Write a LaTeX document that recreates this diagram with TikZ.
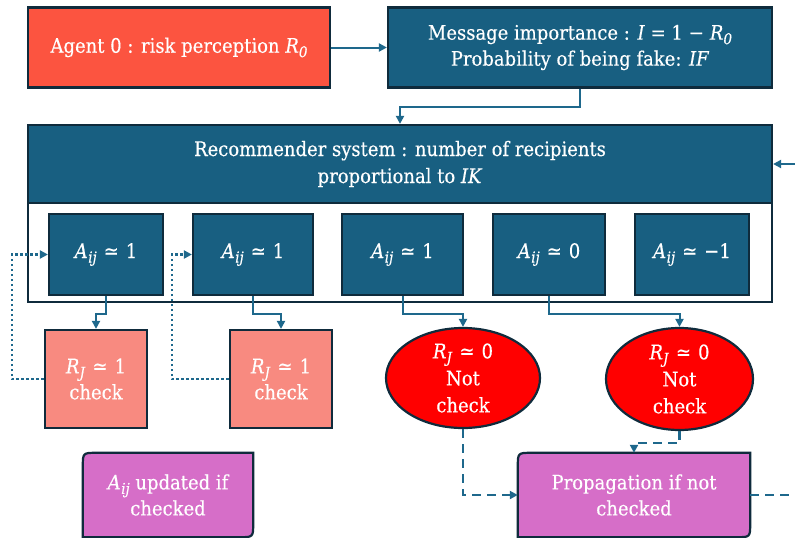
\documentclass[tikz,border=0pt]{standalone}
\usepackage{fontspec}
\setmainfont{DejaVu Serif Condensed}[FakeBold=0.3]
\usetikzlibrary{arrows.meta,shapes.geometric,calc,backgrounds}
\definecolor{agentred}{RGB}{252,84,64}
\definecolor{teal}{RGB}{24,95,129}
\definecolor{edge}{RGB}{15,43,60}
\definecolor{wire}{RGB}{30,104,140}
\definecolor{salmon}{RGB}{248,138,128}
\definecolor{alarm}{RGB}{255,0,0}
\definecolor{orchid}{RGB}{214,110,200}
% symbols set in the text font so that they share its weight
\newcommand{\sub}[1]{\raisebox{-4.5pt}{\fontsize{15}{15}\selectfont\textit{#1}}}
\newcommand{\vA}{\textit{A}\kern0.5pt\sub{ij}}
\newcommand{\vR}[1]{\textit{R}\sub{#1}}
\newcommand{\approxeq}{\hspace{0.35em}≃\hspace{0.35em}}
\newcommand{\minus}{\hspace{0.3em}−\hspace{0.3em}}
\tikzset{
  base/.style={draw=edge, line width=2.2pt, text=white, align=center, inner sep=2pt,
    font=\fontsize{20}{26}\selectfont},
  agentbox/.style={base, fill=agentred},
  bluebox/.style={base, fill=teal},
  frame/.style={draw=edge, line width=2.2pt, fill=white},
  checkbox/.style={base, fill=salmon},
  notcheck/.style={base, ellipse, fill=alarm, inner sep=0pt, font=\fontsize{20}{27}\selectfont},
  softbox/.style={text=white, align=center, font=\fontsize{20}{26}\selectfont},
  softfill/.style={draw=edge, line width=2.2pt, fill=orchid},
  tip/.style={-{Triangle[length=8pt,width=8pt]}},
  conn/.style={draw=wire, line width=2pt, tip},
  dotconn/.style={draw=wire, line width=2.2pt, dash pattern=on 2.5pt off 2.5pt, tip},
  dashconn/.style={draw=wire, line width=2.2pt, dash pattern=on 9pt off 6pt, tip},
}
\begin{document}
\begin{tikzpicture}[x=1pt,y=-1pt]
\useasboundingbox (0,0) rectangle (795,538);

% top row
\node[agentbox, minimum width=302pt, minimum height=80pt] (agent) at (179,47.5)
  {Agent 0 : risk perception \vR{0}};
\node[bluebox, minimum width=384pt, minimum height=80pt] (msg) at (580,47.5)
  {Message importance : \textit{I} = 1\minus\vR{0}\\ Probability of being fake: \textit{IF}};

% recommender system with its link weights
\node[frame, minimum width=744pt, minimum height=177pt] (rs) at (400,213.5) {};
\node[bluebox, minimum width=744pt, minimum height=78pt] (hdr) at (400,164)
  {Recommender system : number of recipients\\[1pt] proportional to \textit{IK}};
\node[bluebox, minimum width=114pt, minimum height=81pt] (b1) at (106,254.5) {\vA\approxeq 1};
\node[bluebox, minimum width=120pt, minimum height=81pt] (b2) at (253,254.5) {\vA\approxeq 1};
\node[bluebox, minimum width=121pt, minimum height=81pt] (b3) at (402.5,254.5) {\vA\approxeq 1};
\node[bluebox, minimum width=112pt, minimum height=81pt] (b4) at (549,254.5) {\vA\approxeq 0};
\node[bluebox, minimum width=114pt, minimum height=81pt] (b5) at (692,254.5) {\vA\approxeq −1};

% recipients
\node[checkbox, minimum width=102pt, minimum height=98pt] (c1) at (96,379) {\vR{J}\approxeq 1\\ check};
\node[checkbox, minimum width=102pt, minimum height=98pt] (c2) at (281,379) {\vR{J}\approxeq 1\\ check};
\node[notcheck, minimum width=154pt, minimum height=100pt] (e1) at (463,378) {\vR{J}\approxeq 0\\ Not\\ check};
\node[notcheck, minimum width=147pt, minimum height=102pt] (e2) at (679.5,379) {\vR{J}\approxeq 0\\ Not\\ check};

% outcome boxes (rounded at two opposite corners)
\node[softbox, minimum width=170pt, minimum height=84pt] (upd) at (168,495) {\vA{} updated if\\ checked};
\node[softbox, minimum width=232pt, minimum height=84pt] (prop) at (634,495) {Propagation if not\\ checked};
\begin{scope}[on background layer]
  \foreach \n in {upd,prop}{
    \path[softfill] (\n.south west) -- ($(\n.north west)+(0,14)$)
      .. controls (\n.north west) .. ($(\n.north west)+(14,0)$)
      -- (\n.north east) -- ($(\n.south east)+(0,-14)$)
      .. controls (\n.south east) .. ($(\n.south east)+(-14,0)$) -- cycle;
  }
\end{scope}

% connectors
\coordinate (inR) at (795,164);
\coordinate (outR) at (795,495);
\draw[conn] (agent.east) -- (msg.west);
\draw[conn] (msg.south) -- ++(0,18.5) -| (hdr.north);
\draw[conn] (inR) -- (hdr.east);
\draw[conn] (b1.south) -- ++(0,18) -| (c1.north);
\draw[conn] (b2.south) -- ++(0,18) -| (c2.north);
\draw[conn] (b3.south) -- ++(0,18) -| (e1.north);
\draw[conn] (b4.south) -- ++(0,18) -| (e2.north);
\draw[dotconn] (c1.west) -- ++(-32,0) |- (b1.west);
\draw[dotconn] (c2.west) -- ++(-57,0) |- (b2.west);
\draw[dashconn] (e1.south) |- (prop.west);
\draw[dashconn] (e2.south) -- ++(0,12) -| (prop.north);
\draw[dashconn, -] (prop.east) -- (outR);
\end{tikzpicture}
\end{document}
